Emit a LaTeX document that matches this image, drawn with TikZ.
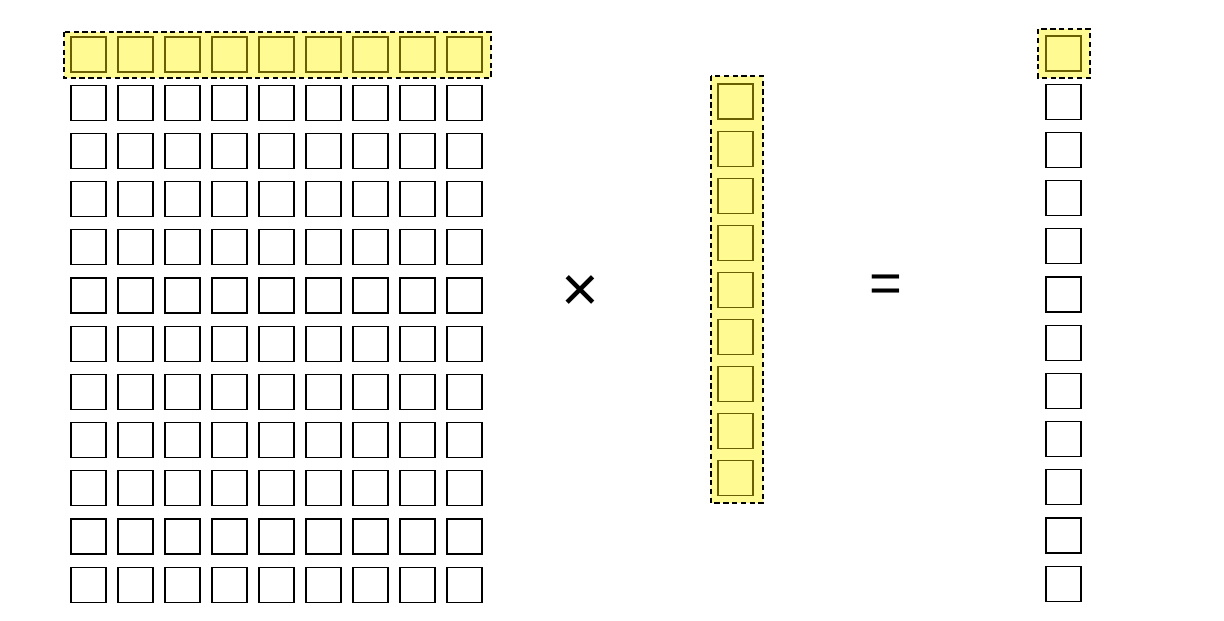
\documentclass[tikz,border=0pt]{standalone}
\usepackage{fontspec}
\setmainfont{Liberation Sans}
\usetikzlibrary{positioning}
\definecolor{hilite}{RGB}{255,250,145}
\definecolor{cellline}{RGB}{105,95,0}
\tikzset{
  cell/.style={draw, line width=0.6pt, minimum size=0.7cm, inner sep=0pt},
  hicell/.style={cell, draw=cellline, fill=hilite},
  band/.style={draw, dash pattern=on 3pt off 2pt, line width=0.6pt, fill=hilite},
  op/.style={font=\fontsize{32}{36}\selectfont, inner sep=0pt}
}
\begin{document}
\begin{tikzpicture}[x=0.02cm, y=-0.02cm]
        \useasboundingbox (0,0) rectangle (1224,621);
        %highlighted row, column and result entry
        \draw[band] (64,32) rectangle (491,78);
        \draw[band] (711,76) rectangle (763,503);
        \draw[band] (1038,29) rectangle (1090,78);
        %matrix
        \foreach \c in {0,...,8}
          \node[hicell] (m-0-\c) at (88.5+47*\c, 54.5) {};
        \foreach \r in {1,...,11}
          \foreach \c in {0,...,8}
            \node[cell] (m-\r-\c) at (88.5+47*\c, 54.5+48.2*\r) {};
        %vector
        \foreach \r in {0,...,8}
          \node[hicell] (v-\r) at (735.5, 101.5+47.1*\r) {};
        %result
        \node[hicell] (y-0) at (1063.5, 53.5) {};
        \foreach \r in {1,...,11}
          \node[cell] (y-\r) at (1063.5, 53.5+48.2*\r) {};
        \node[op, scale=1.15] (times) at (580,294) {×};
        \node[op] (equals) at (886,289) {=};
\end{tikzpicture}
\end{document}
